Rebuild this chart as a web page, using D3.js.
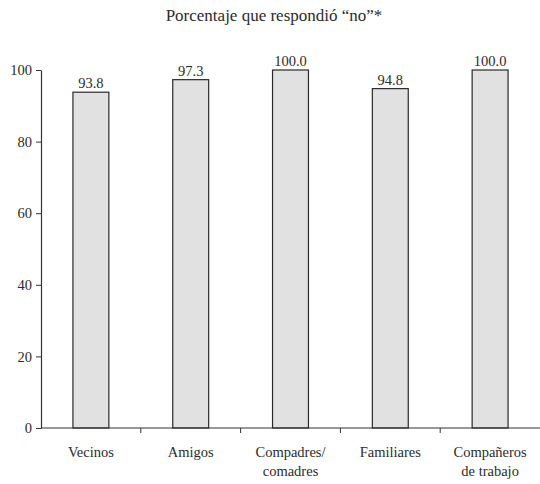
<!DOCTYPE html>
<html><head><meta charset="utf-8">
<script src="https://cdn.jsdelivr.net/npm/d3@7"></script>
<style>body{margin:0;background:#fff}svg{display:block}svg text{font-family:"Liberation Serif",serif !important;fill:#2b2b2b}</style>
</head><body>
<script>
const categories = [["Vecinos"], ["Amigos"], ["Compadres/", "comadres"], ["Familiares"], ["Compañeros", "de trabajo"]];
const values = [93.8, 97.3, 100.0, 94.8, 100.0];
const yTicks = [0, 20, 40, 60, 80, 100];
const title = "Porcentaje que respondió “no”*";

const W = 540, H = 484;
const FONT = "'Liberation Serif', serif";
const svg = d3.select("body").append("svg").attr("width", W).attr("height", H).attr("font-family", FONT);
const x = d3.scaleBand().domain(d3.range(categories.length)).range([41, 540]).paddingInner(0.64).paddingOuter(0.32);
const y = d3.scaleLinear().domain([0, 100]).range([428, 70]);

svg.append("text").attr("x", 274).attr("y", 21).attr("text-anchor", "middle").style("font-size", "17px").text(title);

// bars
svg.selectAll("rect.bar").data(values).join("rect")
  .attr("x", (d, i) => x(i)).attr("width", x.bandwidth())
  .attr("y", d => y(d)).attr("height", d => y(0) - y(d))
  .attr("fill", "#e1e1e1").attr("stroke", "#2a2a2a").attr("stroke-width", 1.2);

svg.selectAll("text.val").data(values).join("text")
  .attr("x", (d, i) => x(i) + x.bandwidth() / 2).attr("y", d => y(d) - 4)
  .attr("text-anchor", "middle").style("font-size", "14.5px").text(d => d.toFixed(1));

// y axis
const ya = svg.append("g").attr("transform", "translate(41,0)")
  .call(d3.axisLeft(y).tickValues(yTicks).tickSize(5).tickPadding(4).tickSizeOuter(0));
ya.attr("font-family", FONT);
ya.select(".domain").attr("stroke", "#333").attr("stroke-width", 1.2);
ya.selectAll(".tick line").attr("stroke", "#333");
ya.selectAll("text").style("font-size", "14.5px").attr("fill", "#2b2b2b");

// x axis
const step = x.step();
const bounds = d3.range(1, categories.length).map(i => x(i) - x.paddingInner() * step / 2);
const xa = svg.append("g");
xa.append("line").attr("x1", 41).attr("x2", 540).attr("y1", y(0)).attr("y2", y(0)).attr("stroke", "#333").attr("stroke-width", 1.2);
xa.selectAll("line.t").data(bounds).join("line").attr("class", "t")
  .attr("x1", d => d).attr("x2", d => d).attr("y1", y(0)).attr("y2", y(0) + 5).attr("stroke", "#333");

const lab = svg.selectAll("text.cat").data(categories).join("text")
  .attr("text-anchor", "middle").style("font-size", "14.5px")
  .attr("transform", (d, i) => `translate(${x(i) + x.bandwidth() / 2},457)`);
lab.selectAll("tspan").data(d => d).join("tspan").attr("x", 0).attr("dy", (d, j) => j ? 19 : 0).text(d => d);
</script>
</body></html>
